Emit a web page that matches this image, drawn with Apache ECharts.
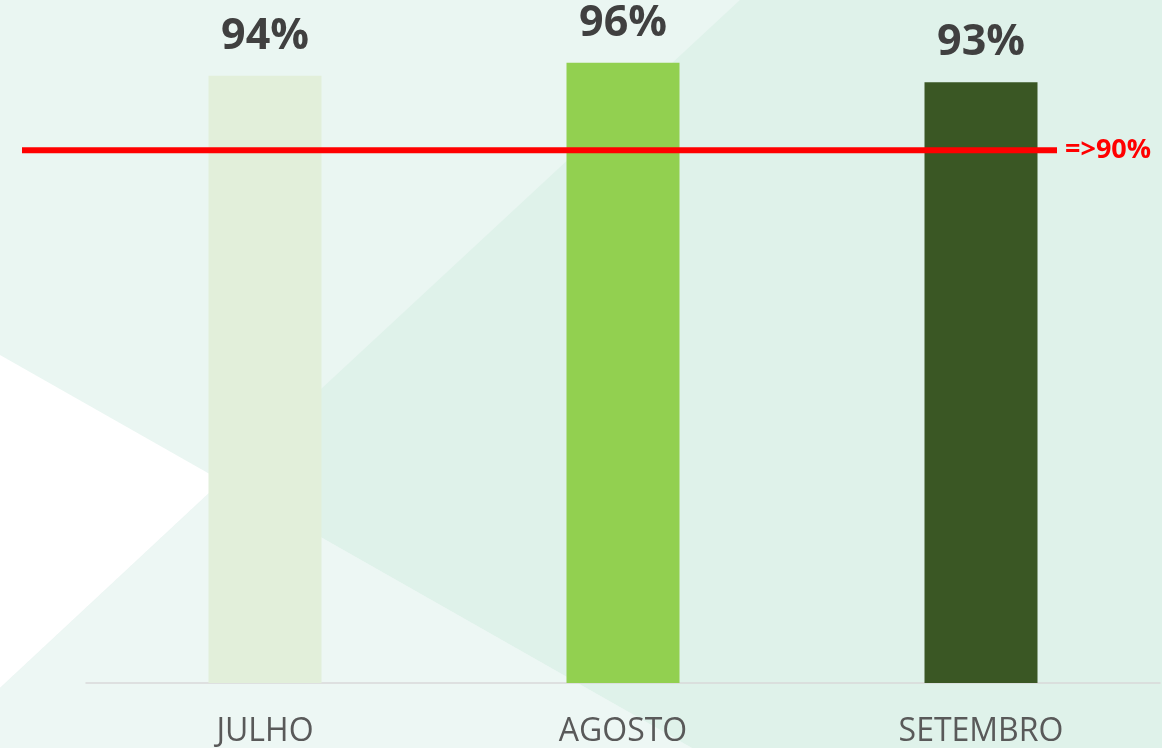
<!DOCTYPE html>
<html>
<head>
<meta charset="utf-8">
<script src="https://cdn.jsdelivr.net/npm/echarts@6/dist/echarts.min.js"></script>
<style>
  html, body { margin: 0; padding: 0; background: #eaf6f2; }
  #chart { width: 1162px; height: 748px; }
</style>
</head>
<body>
<div id="chart"></div>
<script>
// ---- data ----
const categories = ['JULHO', 'AGOSTO', 'SETEMBRO'];
const values = [94, 96, 93];
const thresholdValue = 90;
const thresholdLabel = '=>90%';

// ---- styles ----
const barColors = ['#e2efda', '#92d050', '#3a5724'];
const W = 1162, H = 748;

const chart = echarts.init(document.getElementById('chart'), null, { renderer: 'canvas' });

// background decorative wedges
const bg = [
  { type: 'rect', shape: { x: 0, y: 0, width: W, height: H }, style: { fill: '#eaf6f2' } },
  { type: 'polygon', shape: { points: [[740, 0], [W, 0], [W, H], [692, H], [222, 481]] }, style: { fill: '#dff2ea' } },
  { type: 'polygon', shape: { points: [[0, 355], [222, 481], [0, 688]] }, style: { fill: '#ffffff' } },
  { type: 'polygon', shape: { points: [[0, 688], [222, 481], [692, H], [0, H]] }, style: { fill: '#edf7f4' } }
].map(g => Object.assign(g, { z: -10, silent: true }));

const option = {
  animation: false,
  backgroundColor: '#eaf6f2',
  graphic: { elements: bg },
  grid: [
    { left: 86, right: 2, top: 37, bottom: 65 },
    { left: 22, right: 105, top: 91, bottom: 65 }
  ],
  xAxis: [
    {
      type: 'category', gridIndex: 0, data: categories,
      axisTick: { show: false },
      axisLine: { lineStyle: { color: '#d9d9d9', width: 1.5 } },
      axisLabel: { fontSize: 32, color: '#595959', fontFamily: 'Open Sans', margin: 33 }
    },
    {
      type: 'category', gridIndex: 1, data: ['a', 'b'], boundaryGap: false, show: false
    }
  ],
  yAxis: [
    { type: 'value', gridIndex: 0, min: 0, max: 100, show: false, splitLine: { show: false } },
    { type: 'value', gridIndex: 1, min: 0, max: 100, show: false, splitLine: { show: false } }
  ],
  series: [
    {
      type: 'bar', xAxisIndex: 0, yAxisIndex: 0,
      barWidth: 113,
      data: values.map((v, i) => ({ value: v, itemStyle: { color: barColors[i] } })),
      label: {
        show: true, position: 'top', distance: 18,
        formatter: p => p.value + '%',
        fontSize: 43, fontWeight: 'bold', color: '#404040', fontFamily: 'Open Sans'
      },
      z: 2
    },
    {
      type: 'line', xAxisIndex: 1, yAxisIndex: 1,
      data: [thresholdValue, thresholdValue],
      symbol: 'none',
      lineStyle: { color: '#ff0000', width: 6, cap: 'butt' },
      endLabel: {
        show: true, formatter: thresholdLabel, distance: 8,
        color: '#ff0000', fontSize: 27, fontWeight: 'bold', fontFamily: 'Open Sans'
      },
      z: 5
    }
  ]
};
chart.setOption(option);
</script>
</body>
</html>
